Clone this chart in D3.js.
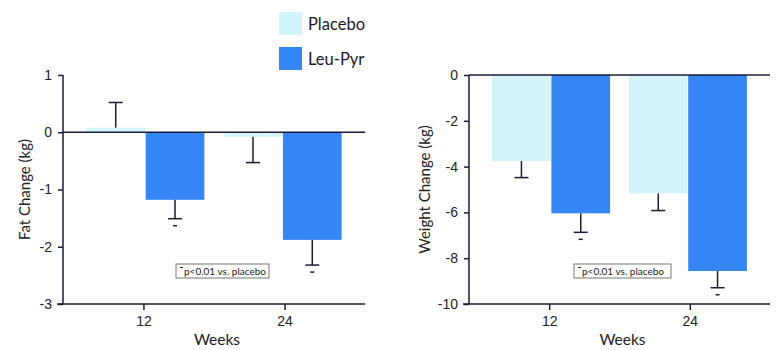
<!DOCTYPE html>
<html>
<head>
<meta charset="utf-8">
<script src="https://cdn.jsdelivr.net/npm/d3@7"></script>
<style>
  body { margin: 0; background: #fff; }
  svg { font-family: Lato, 'Open Sans', sans-serif; }
</style>
</head>
<body>
<div id="chart"></div>
<script>
// data
const weeks = ['12', '24'];
const series = ['Placebo', 'Leu-Pyr'];
const colors = ['#d3f4fb', '#3586f5'];

const fatPlacebo = [0.08, -0.08];
const fatPlaceboErr = [0.44, 0.45];
const fatLeuPyr = [-1.18, -1.88];
const fatLeuPyrErr = [0.33, 0.44];
const fatTicks = [1, 0, -1, -2, -3];

const weightPlacebo = [-3.76, -5.17];
const weightPlaceboErr = [0.72, 0.75];
const weightLeuPyr = [-6.04, -8.56];
const weightLeuPyrErr = [0.83, 0.73];
const weightTicks = [0, -2, -4, -6, -8, -10];

const leuPyrSig = [true, true];
const footnote = 'p<0.01 vs. placebo';

const ink = '#1c1c38';

const svg = d3.select('#chart').append('svg')
  .attr('width', 776)
  .attr('height', 350);

function buildRows(plac, placErr, leu, leuErr) {
  const rows = [];
  weeks.forEach((w, i) => {
    rows.push({ week: w, series: series[0], value: plac[i], err: placErr[i], sig: false });
    rows.push({ week: w, series: series[1], value: leu[i], err: leuErr[i], sig: leuPyrSig[i] });
  });
  return rows;
}

function drawPanel(cfg) {
  const g = svg.append('g');
  // tick positions and bar-group positions are not quite aligned in the original
  const x = d3.scalePoint().domain(weeks).range([cfg.left, cfg.right]).padding(0.57);
  const xg = d3.scalePoint().domain(weeks).range([cfg.left, cfg.right]).padding(0.6);
  const xs = d3.scaleBand().domain(series).range([-59, 59]).paddingInner(0.01);
  const y = d3.scaleLinear().domain(cfg.domain).range([cfg.top, cfg.bottom]);

  // bars
  g.selectAll('rect.bar')
    .data(cfg.rows)
    .join('rect')
    .attr('class', 'bar')
    .attr('x', (d) => xg(d.week) + xs(d.series))
    .attr('width', xs.bandwidth())
    .attr('y', (d) => y(Math.max(0, d.value)))
    .attr('height', (d) => Math.abs(y(d.value) - y(0)))
    .attr('fill', (d) => colors[series.indexOf(d.series)]);

  // one-sided error bars
  const errEnd = (d) => (d.value >= 0 ? d.value + d.err : d.value - d.err);
  const cx = (d) => xg(d.week) + xs(d.series) + xs.bandwidth() / 2;
  g.selectAll('line.err')
    .data(cfg.rows)
    .join('line')
    .attr('class', 'err')
    .attr('x1', cx).attr('x2', cx)
    .attr('y1', (d) => y(d.value))
    .attr('y2', (d) => y(errEnd(d)))
    .attr('stroke', ink)
    .attr('stroke-width', 1.5);
  g.selectAll('line.cap')
    .data(cfg.rows)
    .join('line')
    .attr('class', 'cap')
    .attr('x1', (d) => cx(d) - 7).attr('x2', (d) => cx(d) + 7)
    .attr('y1', (d) => y(errEnd(d)))
    .attr('y2', (d) => y(errEnd(d)))
    .attr('stroke', ink)
    .attr('stroke-width', 1.5);

  // significance marks
  g.selectAll('line.sig')
    .data(cfg.rows.filter((d) => d.sig))
    .join('line')
    .attr('class', 'sig')
    .attr('x1', (d) => cx(d) - 2).attr('x2', (d) => cx(d) + 2)
    .attr('y1', (d) => y(errEnd(d)) + 7)
    .attr('y2', (d) => y(errEnd(d)) + 7)
    .attr('stroke', ink)
    .attr('stroke-width', 1.5);

  // zero line
  g.append('line')
    .attr('x1', cfg.left).attr('x2', cfg.right)
    .attr('y1', y(0)).attr('y2', y(0))
    .attr('stroke', ink)
    .attr('stroke-width', 1.5);

  // y axis
  const yAxis = g.append('g')
    .attr('transform', `translate(${cfg.left},0)`)
    .call(d3.axisLeft(y).tickValues(cfg.ticks).tickSize(5).tickPadding(6).tickFormat(d3.format('d')));
  yAxis.select('.domain').attr('stroke', ink).attr('stroke-width', 1.5).attr('d', `M0,${cfg.top}V${cfg.bottom}`);
  yAxis.selectAll('.tick line').attr('stroke', ink).attr('stroke-width', 1.5);
  yAxis.selectAll('.tick text').attr('font-size', 14).attr('fill', '#222')
    .text((d) => (d < 0 ? '-' + Math.abs(d) : d));

  // x axis
  const xAxis = g.append('g')
    .attr('transform', `translate(0,${cfg.bottom})`)
    .call(d3.axisBottom(x).tickSize(6).tickPadding(6));
  xAxis.select('.domain').attr('stroke', ink).attr('stroke-width', 1.5).attr('d', `M${cfg.left - 6},0H${cfg.right}`);
  xAxis.selectAll('.tick line').attr('stroke', ink).attr('stroke-width', 1.5);
  xAxis.selectAll('.tick text').attr('font-size', 14).attr('fill', '#222');

  // titles
  g.append('text')
    .attr('x', (cfg.left + cfg.right) / 2 + 3)
    .attr('y', 345)
    .attr('text-anchor', 'middle')
    .attr('font-size', 15.5)
    .attr('fill', '#222')
    .text('Weeks');
  g.append('text')
    .attr('transform', `translate(${cfg.yTitleX},${(cfg.top + cfg.bottom) / 2}) rotate(-90)`)
    .attr('text-anchor', 'middle')
    .attr('font-size', 15)
    .attr('fill', '#222')
    .text(cfg.yTitle);

  // footnote box
  const nb = g.append('g').attr('transform', `translate(${cfg.noteX},264)`);
  nb.append('rect')
    .attr('width', cfg.noteW).attr('height', 14)
    .attr('fill', '#fff')
    .attr('stroke', '#777')
    .attr('stroke-width', 1);
  nb.append('line')
    .attr('x1', 4).attr('x2', 7).attr('y1', 3.5).attr('y2', 3.5)
    .attr('stroke', '#222').attr('stroke-width', 1);
  nb.append('text')
    .attr('x', 8).attr('y', 10.6)
    .attr('font-size', 10)
    .attr('fill', '#222')
    .text(footnote);
}

drawPanel({
  left: 63, right: 365, top: 75, bottom: 304,
  domain: [1, -3], ticks: fatTicks,
  rows: buildRows(fatPlacebo, fatPlaceboErr, fatLeuPyr, fatLeuPyrErr),
  yTitle: 'Fat Change (kg)', yTitleX: 30,
  noteX: 176, noteW: 93,
});

drawPanel({
  left: 469, right: 770, top: 75, bottom: 304,
  domain: [0, -10], ticks: weightTicks,
  rows: buildRows(weightPlacebo, weightPlaceboErr, weightLeuPyr, weightLeuPyrErr),
  yTitle: 'Weight Change (kg)', yTitleX: 430,
  noteX: 574, noteW: 97,
});

// legend
const legend = svg.append('g').attr('transform', 'translate(279,12)');
legend.selectAll('rect')
  .data(series)
  .join('rect')
  .attr('x', 0)
  .attr('y', (d, i) => i * 35)
  .attr('width', 23)
  .attr('height', 23)
  .attr('fill', (d, i) => colors[i]);
legend.selectAll('text')
  .data(series)
  .join('text')
  .attr('x', 29)
  .attr('y', (d, i) => i * 35 + 12)
  .attr('dy', '0.35em')
  .attr('font-size', 16.5)
  .attr('fill', '#1a1a2a')
  .text((d) => d);
</script>
</body>
</html>
